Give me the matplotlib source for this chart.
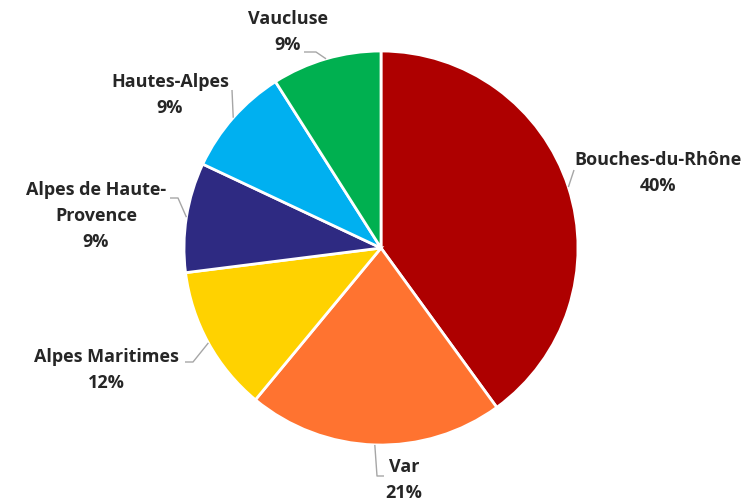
import matplotlib.pyplot as plt
import numpy as np

plt.rcParams['font.family'] = ['Open Sans', 'DejaVu Sans']

labels = ["Bouches-du-Rhône", "Var", "Alpes Maritimes",
          "Alpes de Haute-\nProvence", "Hautes-Alpes", "Vaucluse"]
shares = [40, 21, 12, 9, 9, 9]
colors = ["#AE0000", "#FF7330", "#FFD200", "#2E2A82", "#00B0F0", "#00B050"]

# layout in pixels (figure is 748x504)
W, H = 748, 504
CX, CY, R = 381, 248, 197

def px(x, y):
    return (x - CX) / R, (CY - y) / R

# text centre and leader path (pixel coords) for each slice
text_pos = [(658, 173), (404, 480), (106, 370), (96, 216), (170, 95), (288, 32)]
leader_pts = [
    [(574, 170)],
    [(377, 476), (384, 476)],
    [(193, 362), (185, 362)],
    [(178, 198), (170, 198)],
    [(232, 90)],
    [(316, 52), (304, 52)],
]

fig = plt.figure(figsize=(W / 100, H / 100), dpi=100)
ax = fig.add_axes([0, 0, 1, 1])

wedges, _ = ax.pie(shares, colors=colors, startangle=90, counterclock=False,
                   radius=1, center=(0, 0), frame=True,
                   wedgeprops=dict(edgecolor='white', linewidth=2))
ax.set_xlim(-CX / R, (W - CX) / R)
ax.set_ylim(-(H - CY) / R, CY / R)
ax.axis('off')

for w, lab, val, tp, pts in zip(wedges, labels, shares, text_pos, leader_pts):
    mid = np.deg2rad((w.theta1 + w.theta2) / 2)
    xs = [np.cos(mid)]
    ys = [np.sin(mid)]
    for p in pts:
        x, y = px(*p)
        xs.append(x)
        ys.append(y)
    ax.plot(xs, ys, color='#A6A6A6', linewidth=1, solid_capstyle='butt')
    tx, ty = px(*tp)
    ax.text(tx, ty, f"{lab}\n{val}%", ha='center', va='center',
            fontsize=13, fontweight='bold', color='#262626',
            linespacing=1.56)

fig.savefig("out.png", dpi=100)
